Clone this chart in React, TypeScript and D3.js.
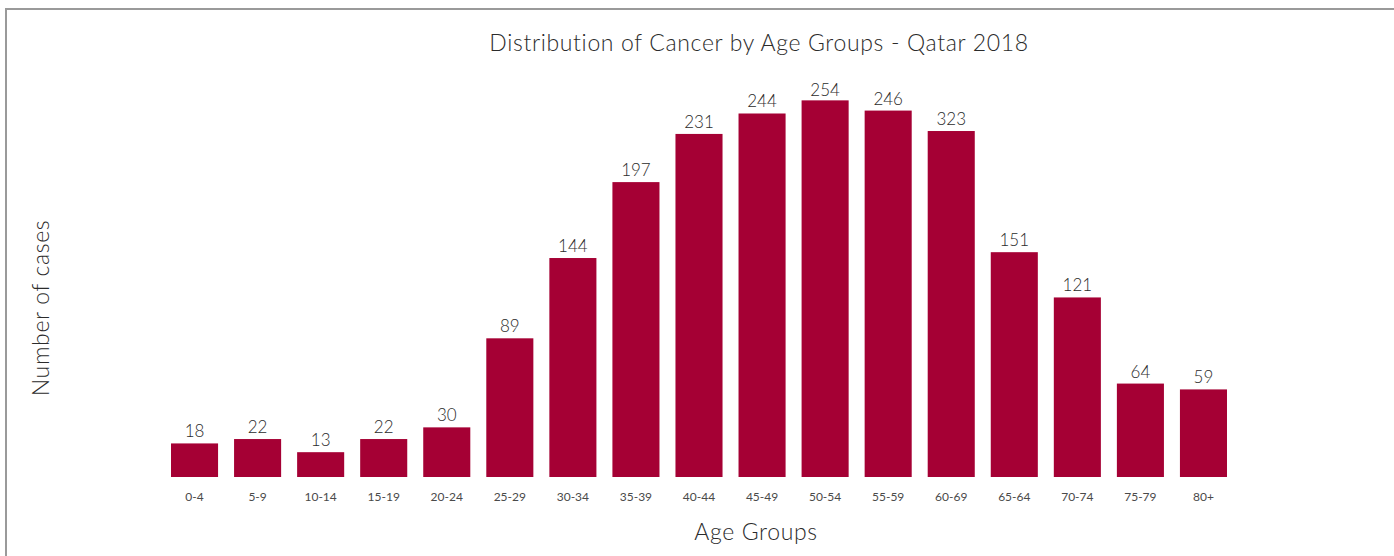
import React from "react";
import * as d3 from "d3";

const categories = ["0-4","5-9","10-14","15-19","20-24","25-29","30-34","35-39","40-44","45-49","50-54","55-59","60-69","65-64","70-74","75-79","80+"];
const valueLabels = [18,22,13,22,30,89,144,197,231,244,254,246,323,151,121,64,59];
const barValues = [19,22,13,22,30,91,146,198,231,245,254,247,233,150,119,60,56];

const W = 1394, H = 556;
const FONT = "Lato, 'Open Sans', sans-serif";
const BAR = "#A50034";
const TXT = "#2b2b2b";
const TICK = "#4a4a4a";

export default function App() {
  const x = d3.scaleBand<string>().domain(categories).range([163, 1235]).paddingInner(0.2537).paddingOuter(0.127);
  const y = d3.scaleLinear().domain([-4, 270]).range([477, 77]);
  const base = y.range()[0];
  return (
    <svg width={W} height={H} style={{ position: "absolute", left: 0, top: 0, background: "#fff" }}>
      <rect x={0} y={0} width={W} height={H} fill="#fff" />
      <line x1={5} y1={9} x2={W} y2={9} stroke="#9a9a9a" strokeWidth={2} />
      <line x1={6} y1={8} x2={6} y2={H} stroke="#9a9a9a" strokeWidth={2} />
      <text x={759} y={51} textAnchor="middle" fontFamily={FONT} fontWeight={300} fontSize={23} letterSpacing={0.65} fill={TXT}>
        Distribution of Cancer by Age Groups - Qatar 2018
      </text>
      {categories.map((c, i) => {
        const bx = x(c) as number;
        const top = y(barValues[i]);
        return (
          <g key={c}>
            <rect x={bx} y={top} width={x.bandwidth()} height={base - top} fill={BAR} />
            <text x={bx + x.bandwidth() / 2} y={Math.max(96, top - 6)} textAnchor="middle" fontFamily={FONT} fontWeight={300} fontSize={17} fill={TXT}>
              {valueLabels[i]}
            </text>
            <text x={bx + x.bandwidth() / 2} y={501} textAnchor="middle" fontFamily={FONT} fontWeight={400} fontSize={12} fill={TICK}>
              {c}
            </text>
          </g>
        );
      })}
      <text x={756} y={540} textAnchor="middle" fontFamily={FONT} fontWeight={300} fontSize={23} letterSpacing={0.65} fill={TXT}>Age Groups</text>
      <text transform="translate(49,308) rotate(-90)" textAnchor="middle" fontFamily={FONT} fontWeight={300} fontSize={23} letterSpacing={0.65} fill={TXT}>Number of cases</text>
    </svg>
  );
}
